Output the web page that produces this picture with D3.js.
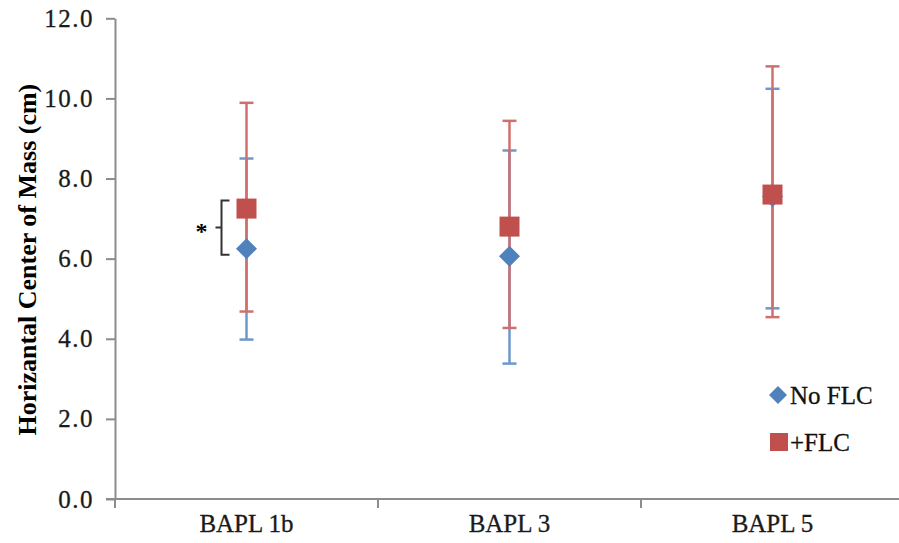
<!DOCTYPE html>
<html>
<head>
<meta charset="utf-8">
<script src="https://cdn.jsdelivr.net/npm/d3@7/dist/d3.min.js"></script>
<style>
  body { margin: 0; background: #fff; }
  svg { display: block; }
</style>
</head>
<body>
<svg id="chart" width="899" height="543"></svg>
<script>
// ---- data ----
const categories = ["BAPL 1b", "BAPL 3", "BAPL 5"];
const seriesNames = ["No FLC", "+FLC"];
const noFlcMean  = [6.25, 6.06, 7.55];
const noFlcUpper = [8.50, 8.70, 10.24];
const noFlcLower = [3.98, 3.38, 4.76];
const flcMean    = [7.25, 6.80, 7.60];
const flcUpper   = [9.89, 9.44, 10.80];
const flcLower   = [4.68, 4.27, 4.54];
const yTicks = [0, 2, 4, 6, 8, 10, 12];
const yTitle = "Horizantal Center of Mass (cm)";
const sigLabel = "*";

const blue = "#4F81BD", red = "#C0504D";
const blueBar = "#6E98CC", redBar = "#D0706E";

const svg = d3.select("#chart");
const plotLeft = 115, plotBottom = 499, plotTop = 18.3, bandW = 263;

const x = d3.scaleBand().domain(categories).range([plotLeft, plotLeft + bandW * 3]).padding(0);
const y = d3.scaleLinear().domain([0, 12]).range([plotBottom, plotTop]);

const fontSerif = "'Liberation Serif','Times New Roman',serif";

// y axis
const yAxis = d3.axisLeft(y).tickValues(yTicks).tickFormat(d3.format(".1f")).tickSize(9).tickSizeOuter(0);
const gy = svg.append("g").attr("transform", `translate(${plotLeft},0)`).call(yAxis);
gy.select(".domain").attr("stroke", "#8c8c8c").attr("stroke-width", 2);
gy.selectAll(".tick line").attr("stroke", "#8c8c8c").attr("stroke-width", 2);
gy.selectAll(".tick text").attr("font-family", fontSerif).attr("font-size", 25)
  .attr("letter-spacing", 1.5).attr("stroke", "#1a1a1a").attr("stroke-width", 0.3)
  .attr("fill", "#1a1a1a").attr("x", -21);

// x axis
const xAxis = d3.axisBottom(x).tickSize(0).tickFormat("");
const gx = svg.append("g").attr("transform", `translate(0,${plotBottom})`).call(xAxis);
gx.select(".domain").attr("stroke", "#8c8c8c").attr("stroke-width", 2).attr("d", `M${plotLeft - 9},0H${plotLeft + bandW * 3}`);
const bounds = [0, 1, 2, 3].map(i => plotLeft + bandW * i);
gx.selectAll(".bt").data(bounds).enter().append("line")
  .attr("x1", d => d).attr("x2", d => d).attr("y1", 0).attr("y2", 9)
  .attr("stroke", "#8c8c8c").attr("stroke-width", 2);
gx.selectAll(".cl").data(categories).enter().append("text")
  .attr("x", d => x(d) + x.bandwidth() / 2).attr("y", 33)
  .attr("text-anchor", "middle").attr("font-family", fontSerif).attr("font-size", 25)
  .attr("stroke", "#1a1a1a").attr("stroke-width", 0.3)
  .attr("fill", "#1a1a1a").text(d => d);

// y title
svg.append("text")
  .attr("transform", `translate(36,${(plotTop + plotBottom) / 2 + 1}) rotate(-90)`)
  .attr("text-anchor", "middle").attr("font-family", fontSerif).attr("font-weight", "bold")
  .attr("font-size", 26).attr("fill", "#000").text(yTitle);

const cx = i => x(categories[i]) + x.bandwidth() / 2;
const capW = 7;

function errorBars(upper, lower, color) {
  const g = svg.append("g");
  categories.forEach((c, i) => {
    g.append("line").attr("x1", cx(i)).attr("x2", cx(i)).attr("y1", y(upper[i])).attr("y2", y(lower[i]))
      .attr("stroke", color).attr("stroke-width", 2.5);
    [upper[i], lower[i]].forEach(v => {
      g.append("line").attr("x1", cx(i) - capW).attr("x2", cx(i) + capW).attr("y1", y(v)).attr("y2", y(v))
        .attr("stroke", color).attr("stroke-width", 2.5);
    });
  });
}
errorBars(noFlcUpper, noFlcLower, blueBar);
errorBars(flcUpper, flcLower, redBar);

const diamond = "M0,-10.5L10.5,0L0,10.5L-10.5,0Z";
svg.selectAll(".dm").data(noFlcMean).enter().append("path")
  .attr("d", diamond).attr("transform", (d, i) => `translate(${cx(i)},${y(d)})`)
  .attr("fill", blue);
svg.selectAll(".sq").data(flcMean).enter().append("rect")
  .attr("x", (d, i) => cx(i) - 10).attr("y", d => y(d) - 10)
  .attr("width", 20).attr("height", 20).attr("fill", red);

// significance bracket for BAPL 1b
const bTop = y(flcMean[0]) - 8, bBot = y(noFlcMean[0]) + 6;
const bx = cx(0) - 25, bMid = (bTop + bBot) / 2;
svg.append("path")
  .attr("d", `M${bx + 8},${bTop}H${bx}V${bBot}H${bx + 8}M${bx},${bMid}H${bx - 6}`)
  .attr("fill", "none").attr("stroke", "#333").attr("stroke-width", 2);
svg.append("text").attr("x", bx - 20).attr("y", bMid + 11).attr("text-anchor", "middle")
  .attr("font-family", fontSerif).attr("font-weight", "bold").attr("font-size", 24).attr("fill", "#000").text(sigLabel);

// legend
const leg = svg.append("g");
leg.append("path").attr("d", "M0,-9L9,0L0,9L-9,0Z").attr("transform", "translate(778,395)").attr("fill", blue);
leg.append("rect").attr("x", 770).attr("y", 433).attr("width", 18).attr("height", 18).attr("fill", red);
leg.append("text").attr("x", 790).attr("y", 404).attr("font-family", fontSerif).attr("font-size", 25)
  .attr("stroke", "#111").attr("stroke-width", 0.3).attr("fill", "#111").text(seriesNames[0]);
leg.append("text").attr("x", 790).attr("y", 451).attr("font-family", fontSerif).attr("font-size", 25)
  .attr("stroke", "#111").attr("stroke-width", 0.3).attr("fill", "#111").text(seriesNames[1]);
</script>
</body>
</html>
